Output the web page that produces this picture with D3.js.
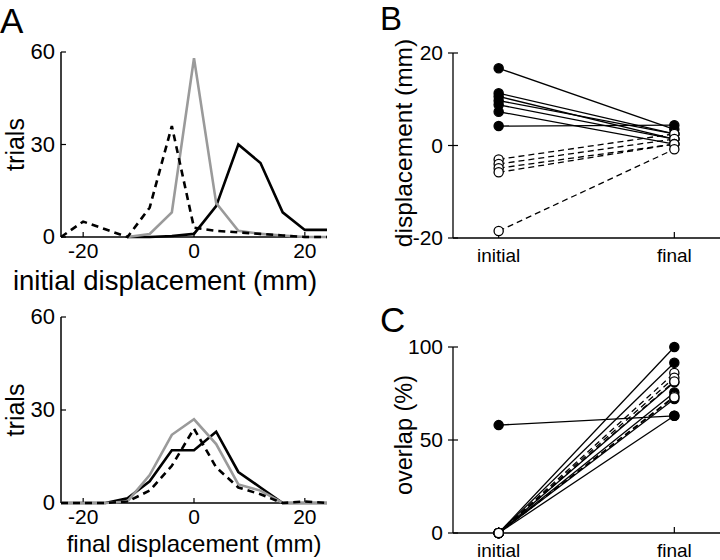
<!DOCTYPE html>
<html>
<head>
<meta charset="utf-8">
<script src="https://cdn.jsdelivr.net/npm/d3@7.9.0/dist/d3.min.js"></script>
<style>
  body { margin: 0; background: #fff; }
  svg { display: block; font-family: "Liberation Sans", Arial, sans-serif; }
</style>
</head>
<body>
<svg id="fig" width="720" height="560"></svg>
<script>
// histogram bins (mm)
const bins = [-24, -20, -16, -12, -8, -4, 0, 4, 8, 12, 16, 20, 24];

// A, initial displacement histograms (trials per bin)
const initGray   = [null, null, null, 0, 1, 8, 58, 11, 2, 1, 0.5, 0, 0];
const initBlack  = [null, null, null, 0, 0, 0.3, 1, 10, 30, 24, 8, 2.3, 2.3];
const initDashed = [0, 5, 2.5, 0, 9.5, 36, 3, 2, 1.5, 1, 0.5, 0, 0];

// A, final displacement histograms
const finGray   = [0, 0, 0, 0.5, 9, 22, 27, 19, 6, 4, 0, 0, 0];
const finBlack  = [0, 0, 0, 1.5, 7, 17, 17, 23, 10, 5, 0, 0, 0];
const finDashed = [0, 0, 0, 0.5, 4, 12, 24, 11.5, 5, 2.8, 0, 0.5, 0];

const histTicksX = [-20, 0, 20];
const histTicksY = [0, 30, 60];

// B, displacement per subject (mm)
const stages = ["initial", "final"];
const dispFilledInit = [16.7, 11.3, 10.6, 9.7, 8.8, 7.3, 4.2];
const dispFilledFinal = [3.5, 2.5, 1.4, 2.5, 1.4, 0.3, 4.4];
const dispOpenInit = [-3.0, -4.0, -4.9, -5.8, -18.5];
const dispOpenFinal = [2.5, 1.4, 0.3, 0.3, -0.8];
const dispTicks = [-20, 0, 20];

// C, overlap per subject (%)
const ovFilledInit = [0, 0, 0, 0, 0, 0, 58];
const ovFilledFinal = [100, 91.5, 81, 75.5, 72, 63, 63];
const ovOpenInit = [0, 0, 0, 0, 0];
const ovOpenFinal = [86, 83.5, 81.5, 73.5, 73];
const ovTicks = [0, 50, 100];

const svg = d3.select("#fig");
const gray = "#9a9a9a";

function histPanel(top, bottom, series, xlabel, labelSize, labelDy, labelX) {
  const x = d3.scaleLinear().domain([-24, 24]).range([61, 327]);
  const y = d3.scaleLinear().domain([0, 60]).range([bottom, top]);
  const g = svg.append("g");

  g.append("line").attr("x1", x(-24)).attr("x2", x(24))
    .attr("y1", y(0)).attr("y2", y(0)).attr("stroke", "#000").attr("stroke-width", 1.5);
  g.append("line").attr("x1", x(-24)).attr("x2", x(-24))
    .attr("y1", y(0)).attr("y2", y(60)).attr("stroke", "#000").attr("stroke-width", 1.5);

  histTicksX.forEach(t => {
    g.append("line").attr("x1", x(t)).attr("x2", x(t))
      .attr("y1", y(0)).attr("y2", y(0) - 5).attr("stroke", "#000").attr("stroke-width", 1.2);
    g.append("text").attr("x", x(t)).attr("y", y(0) + 21)
      .attr("text-anchor", "middle").attr("font-size", 21).text(t);
  });
  histTicksY.forEach(t => {
    g.append("line").attr("x1", x(-24)).attr("x2", x(-24) + 5)
      .attr("y1", y(t)).attr("y2", y(t)).attr("stroke", "#000").attr("stroke-width", 1.2);
    g.append("text").attr("x", x(-24) - 6).attr("y", y(t) + 7)
      .attr("text-anchor", "end").attr("font-size", 22).text(t);
  });

  const line = d3.line()
    .defined(d => d[1] !== null)
    .x(d => x(d[0])).y(d => y(d[1]));

  series.forEach(s => {
    g.append("path")
      .attr("d", line(bins.map((b, i) => [b, s.values[i]])))
      .attr("fill", "none")
      .attr("stroke", s.color)
      .attr("stroke-width", 2.6)
      .attr("stroke-dasharray", s.dash || null)
      .attr("stroke-linejoin", "miter");
  });

  g.append("text")
    .attr("transform", `translate(24,${(top + bottom) / 2}) rotate(-90)`)
    .attr("text-anchor", "middle").attr("font-size", 25).text("trials");
  g.append("text").attr("x", labelX).attr("y", bottom + labelDy)
    .attr("text-anchor", "middle").attr("font-size", labelSize).text(xlabel);
}

histPanel(52, 237, [
  { values: initBlack, color: "#000" },
  { values: initGray, color: gray },
  { values: initDashed, color: "#000", dash: "7,5" }
], "initial displacement (mm)", 27.5, 53, 165);

histPanel(317, 503, [
  { values: finBlack, color: "#000" },
  { values: finGray, color: gray },
  { values: finDashed, color: "#000", dash: "7,5" }
], "final displacement (mm)", 24, 49, 194);

function pairPanel(top, bottom, domain, ticks, label, labelSize, labelCy, filled, open) {
  const x = d3.scalePoint().domain(stages).range([453, 720]).padding(0.26);
  const y = d3.scaleLinear().domain(domain).range([bottom, top]);
  const g = svg.append("g");

  g.append("line").attr("x1", 453).attr("x2", 720)
    .attr("y1", bottom).attr("y2", bottom).attr("stroke", "#000").attr("stroke-width", 1.3);
  g.append("line").attr("x1", 453).attr("x2", 453)
    .attr("y1", bottom).attr("y2", top).attr("stroke", "#000").attr("stroke-width", 1.3);

  ticks.forEach(t => {
    g.append("line").attr("x1", 448).attr("x2", 458)
      .attr("y1", y(t)).attr("y2", y(t)).attr("stroke", "#000").attr("stroke-width", 1.2);
    g.append("text").attr("x", 443).attr("y", y(t) + 7)
      .attr("text-anchor", "end").attr("font-size", 21).text(t);
  });
  stages.forEach(s => {
    g.append("line").attr("x1", x(s)).attr("x2", x(s))
      .attr("y1", bottom).attr("y2", bottom - 6).attr("stroke", "#000").attr("stroke-width", 1.2);
    g.append("text").attr("x", x(s)).attr("y", bottom + 24)
      .attr("text-anchor", "middle").attr("font-size", 19).text(s);
  });

  const drawLines = (set, dash) => {
    set.init.forEach((v, i) => {
      g.append("line")
        .attr("x1", x("initial")).attr("y1", y(v))
        .attr("x2", x("final")).attr("y2", y(set.final[i]))
        .attr("stroke", "#000").attr("stroke-width", 1.3)
        .attr("stroke-dasharray", dash);
    });
  };
  drawLines(filled, null);
  drawLines(open, "6,4");

  const dots = (set, fill) => {
    set.init.forEach((v, i) => {
      [[stages[0], v], [stages[1], set.final[i]]].forEach(([s, val]) => {
        g.append("circle").attr("cx", x(s)).attr("cy", y(val)).attr("r", 4.6)
          .attr("fill", fill).attr("stroke", "#000").attr("stroke-width", 1.3);
      });
    });
  };
  dots(filled, "#000");
  dots(open, "#fff");

  g.append("text")
    .attr("transform", `translate(412,${labelCy}) rotate(-90)`)
    .attr("text-anchor", "middle").attr("font-size", labelSize).text(label);
}

pairPanel(53, 238, [-20, 20], dispTicks, "displacement (mm)", 24.5, 143,
  { init: dispFilledInit, final: dispFilledFinal },
  { init: dispOpenInit, final: dispOpenFinal });

pairPanel(347, 533, [0, 100], ovTicks, "overlap (%)", 23.5, 435,
  { init: ovFilledInit, final: ovFilledFinal },
  { init: ovOpenInit, final: ovOpenFinal });

// panel letters
[["A", 0, 32.5, 35], ["B", 380, 30, 33], ["C", 380, 332, 35]].forEach(([t, px, py, fs]) => {
  svg.append("text").attr("x", px).attr("y", py).attr("font-size", fs).text(t);
});
</script>
</body>
</html>
